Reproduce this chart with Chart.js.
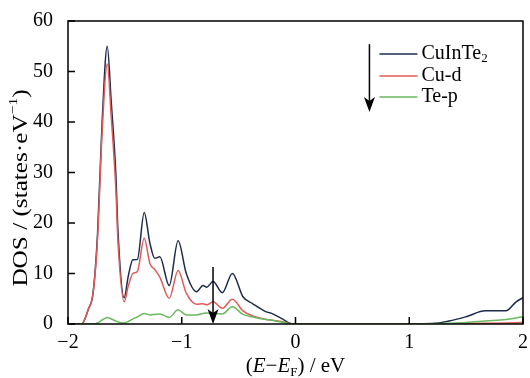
<!DOCTYPE html>
<html>
<head>
<meta charset="utf-8">
<script src="https://cdn.jsdelivr.net/npm/chart.js@4"></script>
<style>
  html, body { margin: 0; padding: 0; background: #fff; }
  #wrap { width: 530px; height: 378px; position: relative; }
</style>
</head>
<body>
<div id="wrap"><canvas id="dos"></canvas></div>
<script>
// energy (eV) and DOS values
const energy = [-2.0, -1.88, -1.82, -1.78, -1.74, -1.70, -1.655, -1.62, -1.58, -1.56, -1.506, -1.47, -1.43, -1.39, -1.33, -1.28, -1.237, -1.193, -1.11, -1.032, -0.96, -0.87, -0.813, -0.78, -0.725, -0.643, -0.555, -0.462, -0.375, -0.257, -0.22, -0.125, -0.02, 0.3, 0.8, 1.2, 1.35, 1.5, 1.67, 1.85, 1.94, 2.0];
const totalDos = [0, 0, 3.0, 6.1, 18, 40, 55, 44, 30, 18, 5.2, 9.5, 12.7, 12.8, 22.1, 16, 13.0, 13.3, 7.6, 16.5, 10.0, 6.4, 7.6, 7.3, 8.4, 6.2, 10.0, 5.4, 4.0, 2.4, 2.2, 1.1, 0, 0, 0, 0.1, 0.6, 1.45, 2.6, 2.6, 4.4, 5.2];
const cuD = [0, 0, 3.0, 6.0, 17, 38, 51.5, 41, 27, 16, 4.4, 7.5, 10.0, 10.4, 17.0, 12, 10.8, 9.3, 5.1, 10.6, 6.1, 3.9, 4.0, 3.8, 4.4, 3.1, 4.9, 2.6, 1.6, 0.9, 0.8, 0.5, 0, 0, 0, 0, 0.05, 0.1, 0.15, 0.2, 0.25, 0.3];
const teP = [0, 0, 0, 0, 0.2, 0.8, 1.3, 1.0, 0.6, 0.4, 0.2, 0.5, 1.0, 1.4, 2.1, 1.8, 1.9, 2.0, 1.3, 2.8, 1.8, 1.8, 2.1, 2.2, 2.1, 2.0, 3.4, 1.9, 1.4, 0.9, 0.8, 0.4, 0, 0, 0, 0.05, 0.15, 0.3, 0.6, 0.9, 1.2, 1.45];

const seriesNames = ['CuInTe2', 'Cu-d', 'Te-p'];
const seriesColors = ['#1d2b4c', '#e05a58', '#69b95e'];
const xTicks = [-2, -1, 0, 1, 2];
const yTicks = [0, 10, 20, 30, 40, 50, 60];

const serif = '"Liberation Serif", "Times New Roman", serif';

function toPoints(ys) {
  return energy.map((x, i) => ({ x: x, y: ys[i] }));
}

// frame, inward ticks, arrows, legend and axis titles
const decorPlugin = {
  id: 'decor',
  afterDraw(chart) {
    const ctx = chart.ctx;
    const a = chart.chartArea;
    const xs = chart.scales.x;
    const ys = chart.scales.y;
    ctx.save();
    ctx.strokeStyle = '#000';
    ctx.lineWidth = 1.5;
    ctx.strokeRect(a.left, a.top, a.right - a.left, a.bottom - a.top);

    xTicks.forEach(v => {
      const px = xs.getPixelForValue(v);
      ctx.beginPath(); ctx.moveTo(px, a.bottom); ctx.lineTo(px, a.bottom - 7); ctx.stroke();
    });
    yTicks.forEach(v => {
      const py = ys.getPixelForValue(v);
      ctx.beginPath(); ctx.moveTo(a.left, py); ctx.lineTo(a.left + 7, py); ctx.stroke();
    });

    function arrow(xv, y0, y1) {
      const px = xs.getPixelForValue(xv);
      const p0 = ys.getPixelForValue(y0);
      const p1 = ys.getPixelForValue(y1);
      ctx.strokeStyle = '#000';
      ctx.fillStyle = '#000';
      ctx.lineWidth = 1.5;
      ctx.beginPath(); ctx.moveTo(px, p0); ctx.lineTo(px, p1 - 10); ctx.stroke();
      ctx.beginPath();
      ctx.moveTo(px, p1);
      ctx.lineTo(px - 5.5, p1 - 15);
      ctx.lineTo(px, p1 - 11);
      ctx.lineTo(px + 5.5, p1 - 15);
      ctx.closePath();
      ctx.fill();
    }
    arrow(-0.725, 11.3, 0);
    arrow(0.65, 55.4, 42);

    // legend
    const lx = xs.getPixelForValue(0.65) + 10;
    const rows = [54, 76, 97];
    ctx.font = '20px ' + serif;
    ctx.textBaseline = 'middle';
    ctx.textAlign = 'left';
    rows.forEach((ry, i) => {
      ctx.strokeStyle = seriesColors[i];
      ctx.lineWidth = 1.3;
      ctx.beginPath(); ctx.moveTo(lx, ry); ctx.lineTo(lx + 38, ry); ctx.stroke();
      ctx.fillStyle = '#000';
      if (i === 0) {
        ctx.fillText('CuInTe', lx + 42, ry);
        const w = ctx.measureText('CuInTe').width;
        ctx.font = '13px ' + serif;
        ctx.fillText('2', lx + 42 + w, ry + 5);
        ctx.font = '20px ' + serif;
      } else {
        ctx.fillText(seriesNames[i], lx + 42, ry);
      }
    });

    // x title: (E−E_F) / eV
    ctx.fillStyle = '#000';
    ctx.textBaseline = 'alphabetic';
    const parts = [
      ['(', '21px ' + serif, 0],
      ['E', 'italic 21px ' + serif, 0],
      ['\u2212', '21px ' + serif, 0],
      ['E', 'italic 21px ' + serif, 0],
      ['F', '13px ' + serif, 4],
      [') / eV', '21px ' + serif, 0]
    ];
    let total = 0;
    parts.forEach(p => { ctx.font = p[1]; total += ctx.measureText(p[0]).width; });
    let cx = (a.left + a.right) / 2 - total / 2;
    const by = 372;
    parts.forEach(p => {
      ctx.font = p[1];
      ctx.fillText(p[0], cx, by + p[2]);
      cx += ctx.measureText(p[0]).width;
    });

    // y title
    ctx.translate(21, 188);
    ctx.rotate(-Math.PI / 2);
    ctx.scale(1.2, 1);
    const yparts = [
      ['DOS / (states\u00b7eV', '21px ' + serif, 0],
      ['\u22121', '13px ' + serif, -7],
      [')', '21px ' + serif, 0]
    ];
    total = 0;
    yparts.forEach(p => { ctx.font = p[1]; total += ctx.measureText(p[0]).width; });
    cx = -total / 2;
    ctx.textBaseline = 'middle';
    yparts.forEach(p => {
      ctx.font = p[1];
      ctx.fillText(p[0], cx, p[2]);
      cx += ctx.measureText(p[0]).width;
    });
    ctx.restore();
  }
};

const ctx = document.getElementById('dos').getContext('2d');
new Chart(ctx, {
  type: 'scatter',
  data: {
    datasets: [totalDos, cuD, teP].map((ys, i) => ({
      label: seriesNames[i],
      data: toPoints(ys),
      showLine: true,
      borderColor: seriesColors[i],
      borderWidth: 1.5,
      pointRadius: 0,
      cubicInterpolationMode: 'monotone',
      fill: false
    })).reverse()
  },
  options: {
    responsive: true,
    maintainAspectRatio: false,
    animation: false,
    layout: { padding: { top: 21, right: 7, left: 0, bottom: 0 } },
    plugins: {
      legend: { display: false },
      tooltip: { enabled: false }
    },
    scales: {
      x: {
        type: 'linear',
        min: -2,
        max: 2,
        afterBuildTicks: s => { s.ticks = xTicks.map(v => ({ value: v })); },
        afterFit: s => { s.height = 54; s.paddingLeft = 0; s.paddingRight = 0; },
        grid: { display: false, drawTicks: false },
        border: { display: false },
        ticks: {
          padding: 7,
          color: '#000',
          font: { family: serif, size: 20 },
          callback: v => String(v).replace('-', '\u2212')
        }
      },
      y: {
        min: 0,
        max: 60,
        afterBuildTicks: s => { s.ticks = yTicks.map(v => ({ value: v })); },
        afterFit: s => { s.width = 68; s.paddingTop = 0; s.paddingBottom = 0; },
        grid: { display: false, drawTicks: false },
        border: { display: false },
        ticks: {
          padding: 15,
          color: '#000',
          font: { family: serif, size: 20 }
        }
      }
    }
  },
  plugins: [decorPlugin]
});
</script>
</body>
</html>
